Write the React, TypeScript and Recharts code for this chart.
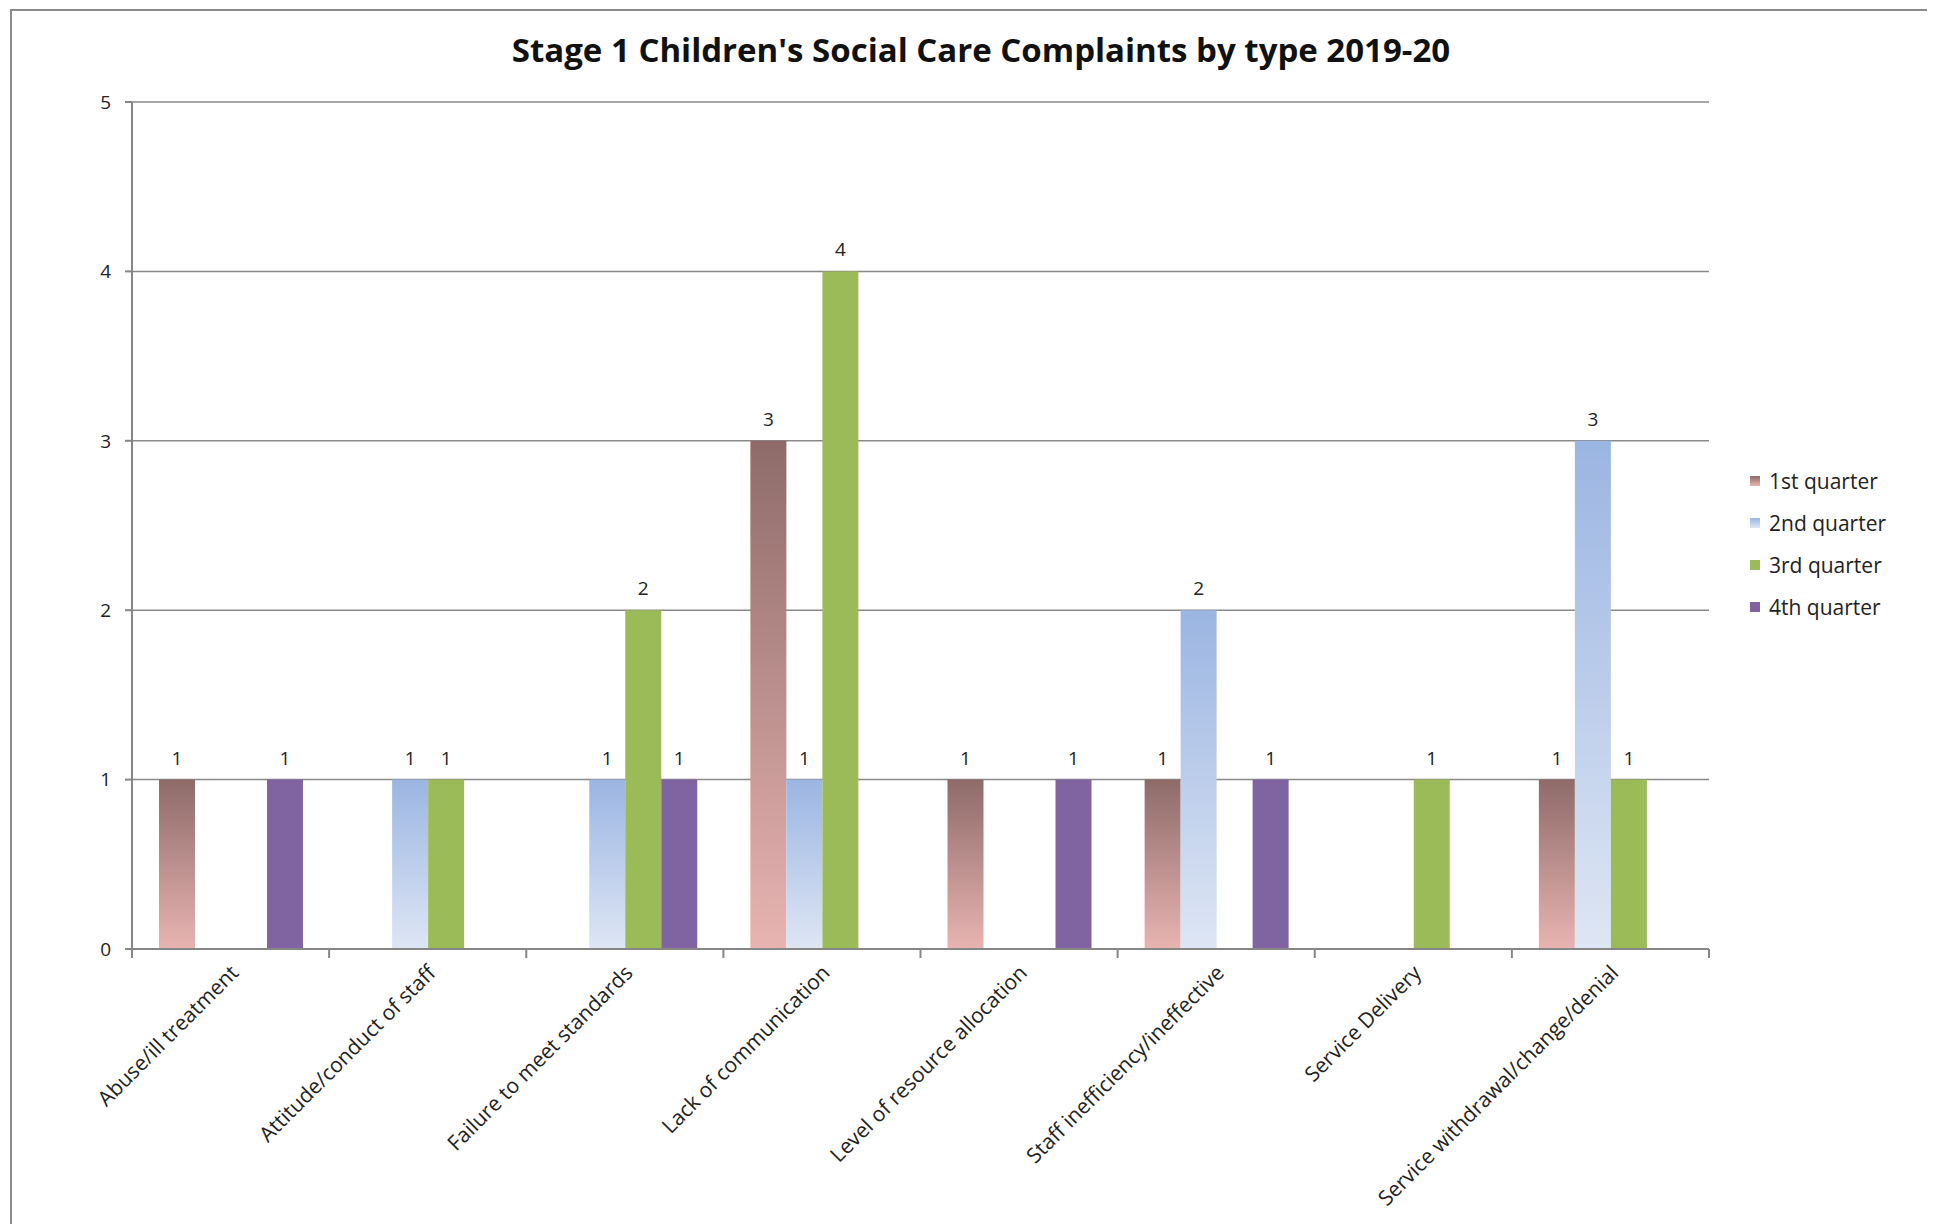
import React from 'react';
import { BarChart, Bar, XAxis, YAxis, CartesianGrid, LabelList } from 'recharts';

const categories = [
  'Abuse/ill treatment',
  'Attitude/conduct of staff',
  'Failure to meet standards',
  'Lack of communication',
  'Level of resource allocation',
  'Staff inefficiency/ineffective',
  'Service Delivery',
  'Service withdrawal/change/denial',
];
const q1: (number | null)[] = [1, null, null, 3, 1, 1, null, 1];
const q2: (number | null)[] = [null, 1, 1, 1, null, 2, null, 3];
const q3: (number | null)[] = [null, 1, 2, 4, null, null, 1, 1];
const q4: (number | null)[] = [1, null, 1, null, 1, 1, null, null];
const seriesNames = ['1st quarter', '2nd quarter', '3rd quarter', '4th quarter'];
const yTicks = [0, 1, 2, 3, 4, 5];

const data = categories.map((c, i) => ({ name: c, q1: q1[i], q2: q2[i], q3: q3[i], q4: q4[i] }));

const FONT = '"Open Sans", sans-serif';
const AXIS = '#868686';

const CHART_W = 1927;
const CHART_H = 1216;
const M = { top: 94, right: 226, bottom: 75, left: 64 };
const PLOT_W = CHART_W - M.left - 60 - M.right;
const BAND = PLOT_W / categories.length;

const XTick = (props: any) => {
  const { x, y, payload, index } = props;
  return (
    <g>
      <line x1={x - BAND / 2} x2={x - BAND / 2} y1={y} y2={y + 9} stroke={AXIS} strokeWidth={2} />
      {index === categories.length - 1 && (
        <line x1={x + BAND / 2} x2={x + BAND / 2} y1={y} y2={y + 9} stroke={AXIS} strokeWidth={2} />
      )}
      <g transform={`translate(${x + 4},${y + 20})`}>
        <text
          transform="rotate(-45)"
          textAnchor="end"
          dy="0.35em"
          fontFamily={FONT}
          fontSize={21}
          fill="#222"
        >
          {payload.value}
        </text>
      </g>
    </g>
  );
};

const labelStyle = { fontFamily: FONT, fontSize: 19, fill: '#222' };

const legendItems = [
  { name: seriesNames[0], bg: 'linear-gradient(#8E6B69, #E8B4B2)' },
  { name: seriesNames[1], bg: 'linear-gradient(#9BB5E2, #DEE6F4)' },
  { name: seriesNames[2], bg: '#9BBB59' },
  { name: seriesNames[3], bg: '#8064A2' },
];

export default function App() {
  return (
    <div style={{ position: 'relative', width: CHART_W, height: CHART_H, background: '#fff' }}>
      <div
        style={{
          position: 'absolute',
          left: 2,
          top: 1,
          right: -10,
          bottom: -10,
          borderLeft: '2px solid #8a8a8a',
          borderTop: '2px solid #8a8a8a',
        }}
      />
      <div
        style={{
          position: 'absolute',
          left: 0,
          width: 1946,
          top: 19,
          textAlign: 'center',
          fontFamily: FONT,
          fontWeight: 700,
          fontSize: 33,
          color: '#111',
        }}
      >
        Stage 1 Children's Social Care Complaints by type 2019-20
      </div>
      <div style={{ position: 'absolute', left: 1742, top: 452, fontFamily: FONT, fontSize: 21, color: '#222' }}>
        {legendItems.map((it) => (
          <div key={it.name} style={{ display: 'flex', alignItems: 'center', height: 42 }}>
            <div style={{ width: 10, height: 10, background: it.bg, marginRight: 9 }} />
            <span>{it.name}</span>
          </div>
        ))}
      </div>
      <div style={{ position: 'absolute', left: 0, top: 0 }}>
        <BarChart
          width={CHART_W}
          height={CHART_H}
          data={data}
          margin={M}
          barCategoryGap="13.7%"
          barGap={0}
        >
          <defs>
            <linearGradient id="gQ1" x1="0" y1="0" x2="0" y2="1">
              <stop offset="0%" stopColor="#8E6B69" />
              <stop offset="100%" stopColor="#E8B4B2" />
            </linearGradient>
            <linearGradient id="gQ2" x1="0" y1="0" x2="0" y2="1">
              <stop offset="0%" stopColor="#9BB5E2" />
              <stop offset="100%" stopColor="#DEE6F4" />
            </linearGradient>
          </defs>
          <CartesianGrid vertical={false} stroke="#898989" strokeWidth={1.5} />
          <XAxis
            dataKey="name"
            interval={0}
            tickLine={false}
            tickSize={0}
            tickMargin={0}
            height={200}
            stroke={AXIS}
            strokeWidth={2}
            tick={<XTick />}
          />
          <YAxis
            width={60}
            domain={[0, 5]}
            ticks={yTicks}
            interval={0}
            stroke={AXIS}
            strokeWidth={2}
            tickSize={7}
            tickMargin={14}
            tick={{ fontFamily: FONT, fontSize: 19, fill: '#222' }}
          />
          <Bar dataKey="q1" name={seriesNames[0]} fill="url(#gQ1)" isAnimationActive={false}>
            <LabelList dataKey="q1" position="top" offset={15} style={labelStyle} />
          </Bar>
          <Bar dataKey="q2" name={seriesNames[1]} fill="url(#gQ2)" isAnimationActive={false}>
            <LabelList dataKey="q2" position="top" offset={15} style={labelStyle} />
          </Bar>
          <Bar dataKey="q3" name={seriesNames[2]} fill="#9BBB59" isAnimationActive={false}>
            <LabelList dataKey="q3" position="top" offset={15} style={labelStyle} />
          </Bar>
          <Bar dataKey="q4" name={seriesNames[3]} fill="#8064A2" isAnimationActive={false}>
            <LabelList dataKey="q4" position="top" offset={15} style={labelStyle} />
          </Bar>
        </BarChart>
      </div>
    </div>
  );
}
